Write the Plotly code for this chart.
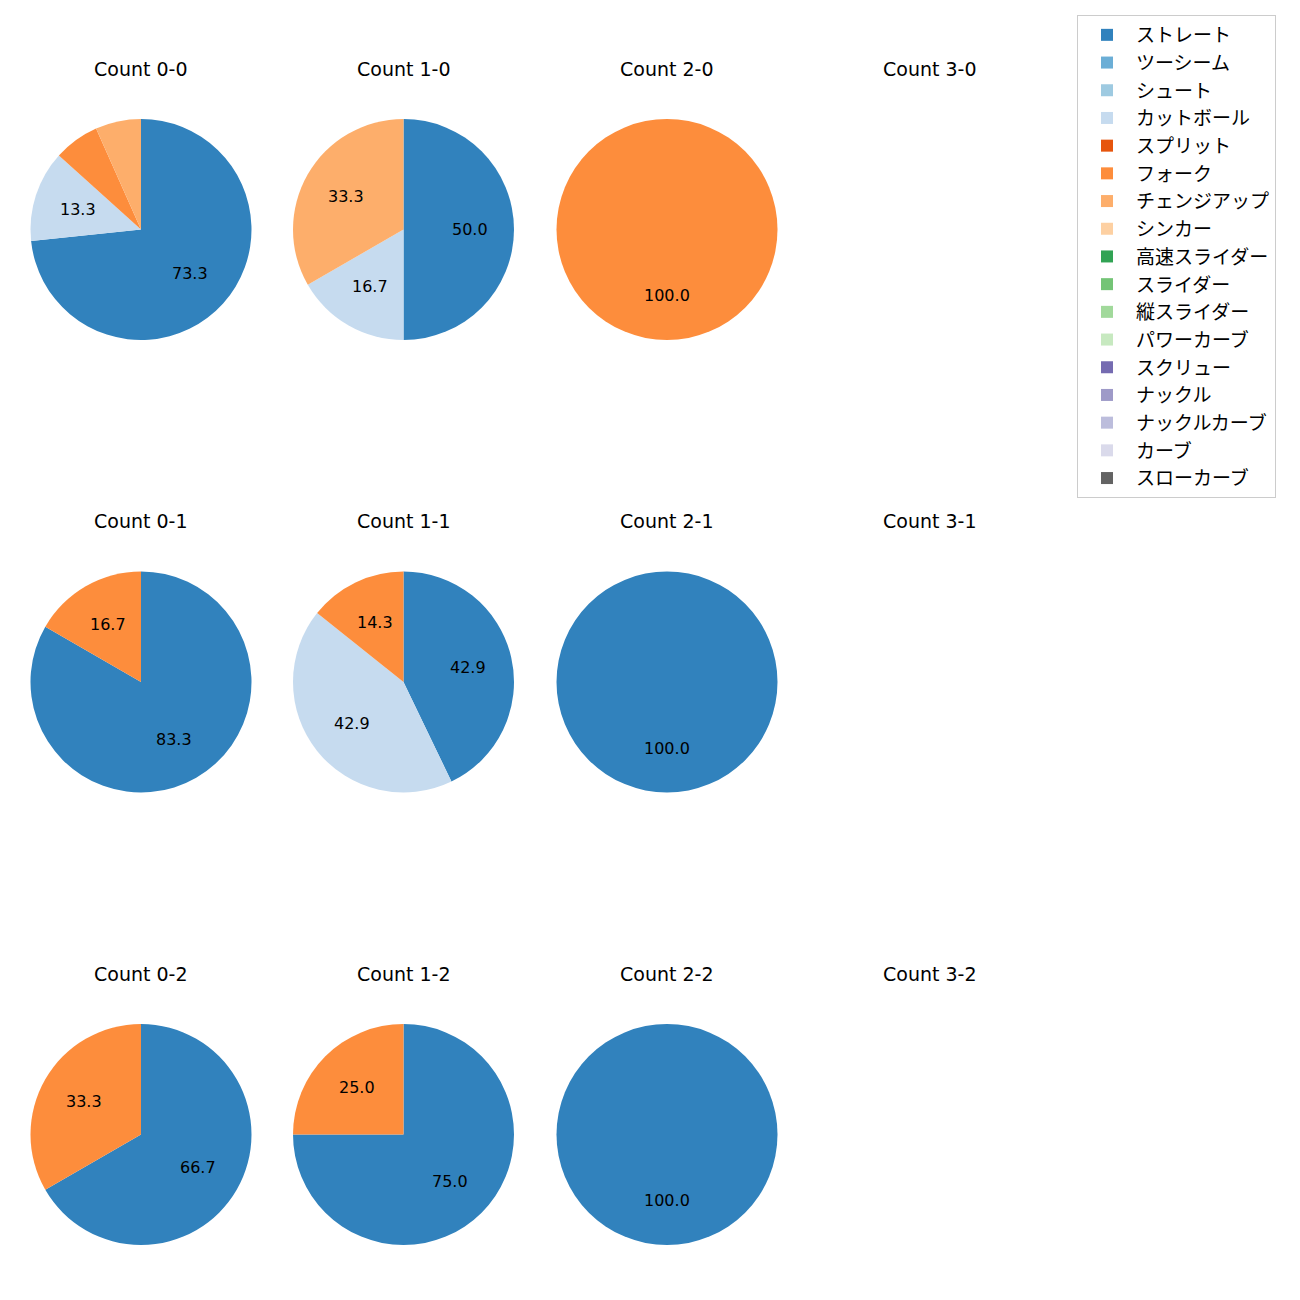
import math
import plotly.graph_objects as go

pitch_types = ["ストレート", "ツーシーム", "シュート", "カットボール", "スプリット", "フォーク",
               "チェンジアップ", "シンカー", "高速スライダー", "スライダー", "縦スライダー",
               "パワーカーブ", "スクリュー", "ナックル", "ナックルカーブ", "カーブ", "スローカーブ"]
colors = ["#3182bd", "#6baed6", "#9ecae1", "#c6dbef", "#e6550d", "#fd8d3c", "#fdae6b", "#fdd0a2",
          "#31a354", "#74c476", "#a1d99b", "#c7e9c0", "#756bb1", "#9e9ac8", "#bcbddc", "#dadaeb",
          "#636363"]

counts = ["0-0", "1-0", "2-0", "3-0", "0-1", "1-1", "2-1", "3-1", "0-2", "1-2", "2-2", "3-2"]
# number of pitches of each type thrown at each ball-strike count
count_00 = {"ストレート": 11, "カットボール": 2, "フォーク": 1, "チェンジアップ": 1}
count_10 = {"ストレート": 3, "カットボール": 1, "チェンジアップ": 2}
count_20 = {"フォーク": 1}
count_30 = {}
count_01 = {"ストレート": 5, "フォーク": 1}
count_11 = {"ストレート": 3, "カットボール": 3, "フォーク": 1}
count_21 = {"ストレート": 1}
count_31 = {}
count_02 = {"ストレート": 2, "フォーク": 1}
count_12 = {"ストレート": 3, "フォーク": 1}
count_22 = {"ストレート": 1}
count_32 = {}
count_data = [count_00, count_10, count_20, count_30,
              count_01, count_11, count_21, count_31,
              count_02, count_12, count_22, count_32]

W = H = 1300
col_cx = [141, 403.5, 667, 930]
row_cy = [229.5, 682, 1134.5]
R = 110.5
title_dy = 161
JP_FONT = "Noto Sans CJK JP"
LAT_FONT = "DejaVu Sans"

fig = go.Figure()
annotations = []
for i, c in enumerate(counts):
    r, col = divmod(i, 4)
    cx, cy = col_cx[col], row_cy[r]
    d = count_data[i]
    vals = [d.get(p, 0) for p in pitch_types]
    total = sum(vals)
    annotations.append(dict(x=cx / W, y=1 - (cy - title_dy) / H, xref="paper", yref="paper",
                            text=f"Count {c}", showarrow=False,
                            font=dict(size=19, color="black", family=LAT_FONT),
                            xanchor="center", yanchor="middle"))
    if total == 0:
        continue
    fig.add_trace(go.Pie(
        labels=pitch_types, values=vals, sort=False, direction="clockwise", rotation=0,
        marker=dict(colors=colors, line=dict(width=0)),
        textinfo="none", hoverinfo="label+percent",
        domain=dict(x=[(cx - R) / W, (cx + R) / W], y=[1 - (cy + R) / H, 1 - (cy - R) / H]),
        showlegend=True,
    ))
    cum = 0
    for v in vals:
        if v == 0:
            continue
        pct = 100 * v / total
        mid = (cum + v / 2) / total * 360
        cum += v
        if pct < 10:
            continue
        px = cx + 0.6 * R * math.sin(math.radians(mid))
        py = cy - 0.6 * R * math.cos(math.radians(mid))
        annotations.append(dict(x=px / W, y=1 - py / H, xref="paper", yref="paper",
                                text=f"{pct:.1f}", showarrow=False,
                                font=dict(size=16, color="black", family=LAT_FONT),
                                xanchor="center", yanchor="middle"))

fig.update_layout(
    width=W, height=H, margin=dict(l=0, r=0, t=0, b=0),
    paper_bgcolor="white", plot_bgcolor="white",
    font=dict(family=JP_FONT),
    annotations=annotations,
    legend=dict(x=1077 / W, y=1 - 15 / H, xanchor="left", yanchor="top",
                bordercolor="#cccccc", borderwidth=1, bgcolor="white",
                itemwidth=48,
                font=dict(size=19, color="black", family=JP_FONT), traceorder="normal"),
)

fig.write_html("out.html", config={"displayModeBar": False},
               post_script="document.body.style.margin='0';")
